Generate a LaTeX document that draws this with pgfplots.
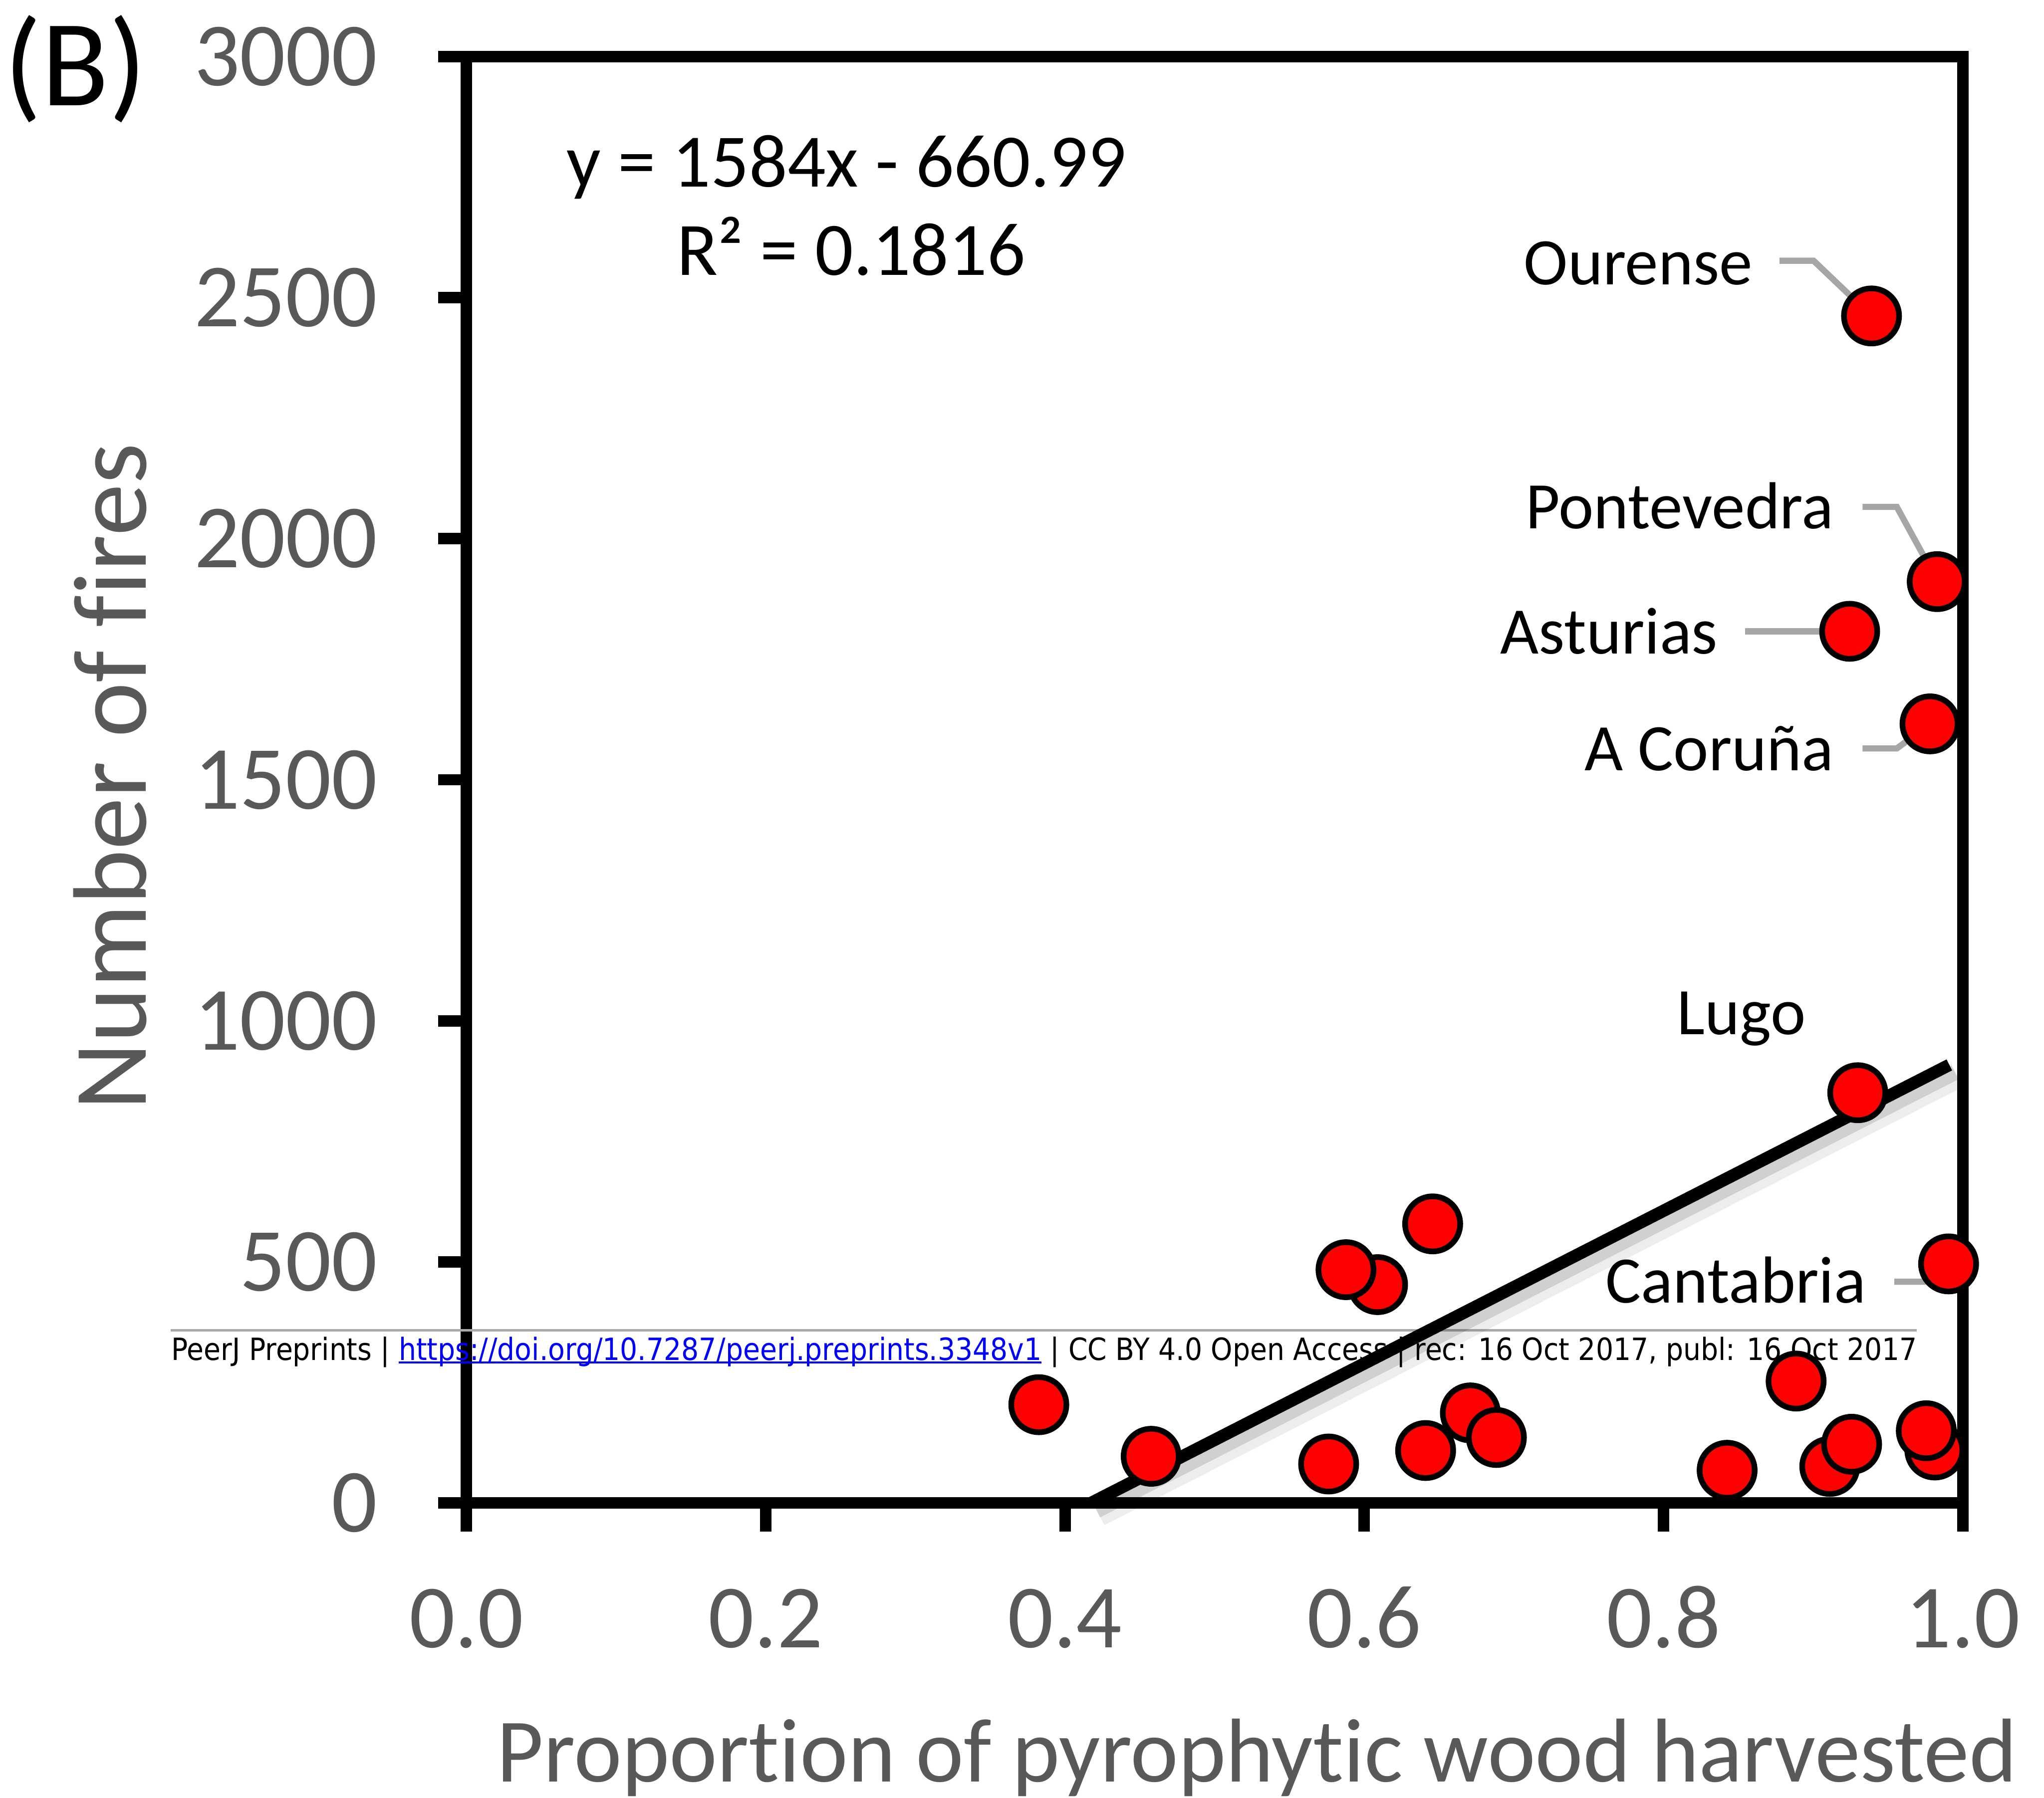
\documentclass[border=0pt]{standalone}
\usepackage{fontspec}
\setmainfont{Carlito}[Ligatures={NoCommon}]
\newfontfamily\wmfont{DejaVu Sans}
\usepackage{pgfplots}
\pgfplotsset{compat=1.18}
\definecolor{tickgray}{HTML}{595959}
\definecolor{leadgray}{HTML}{A6A6A6}
\definecolor{wmline}{HTML}{AAAAAA}
\newsavebox{\ulbox}
\newcommand{\ulink}[1]{\sbox{\ulbox}{#1}\rlap{\rule[-0.75pt]{\wd\ulbox}{0.45pt}}\usebox{\ulbox}}
\begin{document}
\begin{tikzpicture}
\begin{axis}[
  at={(0,0)}, anchor=south west,
  scale only axis, width=315pt, height=304.6pt,
  xmin=0, xmax=1, ymin=0, ymax=3000,
  clip=false,
  axis line style={line width=2.4pt, black},
  xtick={0,0.2,0.4,0.6,0.8,1},
  xticklabels={0.0,0.2,0.4,0.6,0.8,1.0},
  ytick={0,500,1000,1500,2000,2500,3000},
  yticklabels={0,500,1000,1500,2000,2500,3000},
  xtick pos=left, ytick pos=left,
  tick align=outside,
  major tick length=6pt,
  tick style={line width=2.4pt, black},
  xticklabel style={font=\fontsize{19}{19}\selectfont, text=tickgray, anchor=base, inner sep=0pt, yshift=-24.4pt},
  yticklabel style={font=\fontsize{19}{19}\selectfont, text=tickgray, anchor=east, inner sep=0pt, xshift=-12.6pt},
  xlabel={Proportion of pyrophytic wood harvested},
  ylabel={Number of fires},
  xlabel style={at={(axis description cs:0.01968,-0.19271)}, anchor=base west, inner sep=0pt, font=\fontsize{19.1}{19.1}\selectfont, text=tickgray},
  ylabel style={at={(axis description cs:-0.21429,0.50197)}, anchor=base, rotate=0, inner sep=0pt, font=\fontsize{22}{22}\selectfont, text=tickgray},
]
% preprint footer line and text
\draw[wmline, line width=0.5pt] (axis cs:-0.1978,358.5) -- (axis cs:0.9692,358.5);
\node[anchor=base west, inner sep=0pt] at (axis cs:-0.1978,296.5) {\resizebox{367.5pt}{\height}{\wmfont\fontsize{6.45}{7}\selectfont PeerJ Preprints | \textcolor{blue}{\ulink{https://doi.org/10.7287/peerj.preprints.3348v1}} | CC BY 4.0 Open Access | rec: 16 Oct 2017, publ: 16 Oct 2017}};

\addplot[only marks, mark=*, mark size=5.8pt, mark options={fill=red, draw=black, line width=1.2pt}] table {
x y
0.9390 2462
0.9829 1911
0.9244 1808
0.9781 1616
0.9298 851
0.9905 496
0.8886 253
0.8425 68
0.9111 76
0.9257 122
0.9813 110
0.9756 150
0.3825 204
0.4576 97
0.5762 81
0.6089 453
0.5878 484
0.6457 579
0.6410 109
0.6709 187
0.6883 136
};
% trend line shadow and line
\addplot[draw=black, opacity=0.07, line width=5.5pt, transform canvas={xshift=1.6pt,yshift=-2.2pt}] coordinates {(0.4173,0) (0.991,908.7)};
\addplot[draw=black, opacity=0.12, line width=3.2pt, transform canvas={xshift=1.2pt,yshift=-1.6pt}] coordinates {(0.4173,0) (0.991,908.7)};
\addplot[draw=black, line width=2.6pt] coordinates {(0.4173,0) (0.991,908.7)};

% leader lines
\draw[leadgray, line width=1.3pt] (axis cs:0.8775,2576.5) -- (axis cs:0.9003,2576.5) -- (axis cs:0.9390,2462);
\draw[leadgray, line width=1.3pt] (axis cs:0.9330,2066) -- (axis cs:0.9559,2066) -- (axis cs:0.9829,1913);
\draw[leadgray, line width=1.3pt] (axis cs:0.8546,1808) -- (axis cs:0.9244,1808);
\draw[leadgray, line width=1.3pt] (axis cs:0.9330,1565) -- (axis cs:0.9559,1565) -- (axis cs:0.9781,1616);
\draw[leadgray, line width=1.3pt] (axis cs:0.9543,459) -- (axis cs:0.9768,459) -- (axis cs:0.9905,494);

% point labels
\node[anchor=base east, inner sep=0pt, font=\fontsize{14}{14}\selectfont] at (axis cs:0.8600,2527) {Ourense};
\node[anchor=base east, inner sep=0pt, font=\fontsize{14}{14}\selectfont] at (axis cs:0.9143,2021) {Pontevedra};
\node[anchor=base east, inner sep=0pt, font=\fontsize{14}{14}\selectfont] at (axis cs:0.8368,1761) {Asturias};
\node[anchor=base east, inner sep=0pt, font=\fontsize{14}{14}\selectfont] at (axis cs:0.9143,1519) {A Coruña};
\node[anchor=base, inner sep=0pt, font=\fontsize{14}{14}\selectfont] at (axis cs:0.8521,972) {Lugo};
\node[anchor=base east, inner sep=0pt, font=\fontsize{14}{14}\selectfont] at (axis cs:0.9359,415) {Cantabria};

% regression equation
\node[anchor=base west, inner sep=0pt, font=\fontsize{15.9}{15.9}\selectfont] at (axis cs:0.0663,2730) {y = 1584x - 660.99};
\node[anchor=base west, inner sep=0pt, font=\fontsize{15.9}{15.9}\selectfont] at (axis cs:0.1400,2547) {R² = 0.1816};

% panel letter
\node[anchor=base west, inner sep=0pt, font=\fontsize{26}{26}\selectfont] at (axis description cs:-0.3095,0.96619) {(B)};
\end{axis}
\pgfresetboundingbox
\useasboundingbox (-98.2pt,-62.1pt) rectangle (332.1pt,316.5pt);
\end{tikzpicture}
\end{document}
